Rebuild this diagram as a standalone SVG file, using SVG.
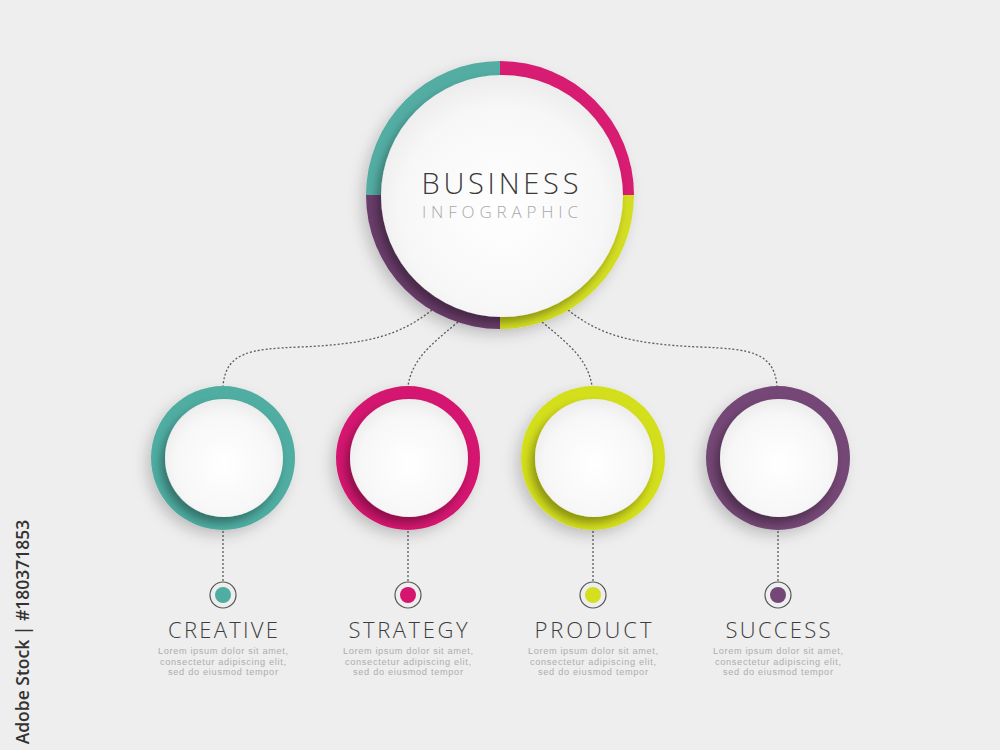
<svg xmlns="http://www.w3.org/2000/svg" width="1000" height="750" viewBox="0 0 1000 750">
<defs>
<radialGradient id="disc" cx="0.5" cy="0.55" r="0.6">
<stop offset="0" stop-color="#ffffff"/>
<stop offset="0.7" stop-color="#f7f7f7"/>
<stop offset="1" stop-color="#e8e8e8"/>
</radialGradient>
<filter id="dsh" x="-30%" y="-30%" width="160%" height="160%">
<feDropShadow dx="-4" dy="6" stdDeviation="5" flood-color="#000" flood-opacity="0.35"/>
</filter>
<filter id="rsh" x="-30%" y="-30%" width="160%" height="160%">
<feDropShadow dx="-5" dy="6" stdDeviation="7" flood-color="#000" flood-opacity="0.18"/>
</filter>
<style>
.conn{fill:none;stroke:#5a5a5a;stroke-width:1.3;stroke-dasharray:2 2}
.lbl{font-family:"Open Sans","Lato","Liberation Sans",sans-serif;font-weight:300;font-size:22px;fill:#3c3c3c;text-anchor:middle}
.lor{font-family:"Liberation Sans","Open Sans",sans-serif;font-size:9.2px;fill:#adadad;text-anchor:middle}
.marker{fill:none;stroke:#555;stroke-width:1.2}
.disc{fill:url(#disc);filter:url(#dsh)}
</style>
</defs>
<rect width="1000" height="750" fill="#eeeeee"/>

<g id="connectors">
<path class="conn" d="M432,310 C400,335 370,344 300,347 C250,349 226,352 223,386"/>
<path class="conn" d="M458,322 C430,345 412,360 408,386"/>
<path class="conn" d="M542,322 C570,345 588,360 592,386"/>
<path class="conn" d="M568,310 C600,335 630,344 700,347 C750,349 774,352 777,386"/>
<path class="conn" d="M223,531 V581"/>
<path class="conn" d="M408,531 V581"/>
<path class="conn" d="M593,531 V581"/>
<path class="conn" d="M778,531 V581"/>
</g>

<g id="main">
<g filter="url(#rsh)">
<path d="M500,195 L366,195 A134,134 0 0 1 500,61 Z" fill="#53ada3"/>
<path d="M500,195 L500,61 A134,134 0 0 1 634,195 Z" fill="#d81a72"/>
<path d="M500,195 L634,195 A134,134 0 0 1 500,329 Z" fill="#d3de22"/>
<path d="M500,195 L500,329 A134,134 0 0 1 366,195 Z" fill="#6a3c6b"/>
</g>
<circle class="disc" cx="502" cy="196" r="121"/>
<text x="500" y="194" font-family="'Open Sans','Lato','Liberation Sans',sans-serif" font-weight="300" font-size="29" fill="#3a3a3a" text-anchor="middle" textLength="157" lengthAdjust="spacing">BUSINESS</text>
<text x="500" y="218" font-family="'Open Sans','Lato','Liberation Sans',sans-serif" font-weight="300" font-size="17" fill="#a9a9a9" text-anchor="middle" textLength="156" lengthAdjust="spacing">INFOGRAPHIC</text>
</g>

<g id="creative">
<circle cx="223" cy="458" r="72" fill="#50ada2" filter="url(#rsh)"/>
<circle class="disc" cx="224" cy="458" r="59"/>
<circle class="marker" cx="223" cy="595" r="13"/>
<circle cx="223" cy="595" r="8" fill="#50ada2"/>
<text class="lbl" x="223" y="638" textLength="110" lengthAdjust="spacing">CREATIVE</text>
<text class="lor" x="223" y="654" textLength="130" lengthAdjust="spacing">Lorem ipsum dolor sit amet,</text>
<text class="lor" x="223" y="664.5" textLength="126" lengthAdjust="spacing">consectetur adipiscing elit,</text>
<text class="lor" x="223" y="675" textLength="110" lengthAdjust="spacing">sed do eiusmod tempor</text>
</g>

<g id="strategy">
<circle cx="408" cy="458" r="72" fill="#d5156f" filter="url(#rsh)"/>
<circle class="disc" cx="409" cy="458" r="59"/>
<circle class="marker" cx="408" cy="595" r="13"/>
<circle cx="408" cy="595" r="8" fill="#d5156f"/>
<text class="lbl" x="408" y="638" textLength="119" lengthAdjust="spacing">STRATEGY</text>
<text class="lor" x="408" y="654" textLength="130" lengthAdjust="spacing">Lorem ipsum dolor sit amet,</text>
<text class="lor" x="408" y="664.5" textLength="126" lengthAdjust="spacing">consectetur adipiscing elit,</text>
<text class="lor" x="408" y="675" textLength="110" lengthAdjust="spacing">sed do eiusmod tempor</text>
</g>

<g id="product">
<circle cx="593" cy="458" r="72" fill="#d4df1f" filter="url(#rsh)"/>
<circle class="disc" cx="594" cy="458" r="59"/>
<circle class="marker" cx="593" cy="595" r="13"/>
<circle cx="593" cy="595" r="8" fill="#d4df1f"/>
<text class="lbl" x="593" y="638" textLength="117" lengthAdjust="spacing">PRODUCT</text>
<text class="lor" x="593" y="654" textLength="130" lengthAdjust="spacing">Lorem ipsum dolor sit amet,</text>
<text class="lor" x="593" y="664.5" textLength="126" lengthAdjust="spacing">consectetur adipiscing elit,</text>
<text class="lor" x="593" y="675" textLength="110" lengthAdjust="spacing">sed do eiusmod tempor</text>
</g>

<g id="success">
<circle cx="778" cy="458" r="72" fill="#744776" filter="url(#rsh)"/>
<circle class="disc" cx="779" cy="458" r="59"/>
<circle class="marker" cx="778" cy="595" r="13"/>
<circle cx="778" cy="595" r="8" fill="#744776"/>
<text class="lbl" x="778" y="638" textLength="105" lengthAdjust="spacing">SUCCESS</text>
<text class="lor" x="778" y="654" textLength="130" lengthAdjust="spacing">Lorem ipsum dolor sit amet,</text>
<text class="lor" x="778" y="664.5" textLength="126" lengthAdjust="spacing">consectetur adipiscing elit,</text>
<text class="lor" x="778" y="675" textLength="110" lengthAdjust="spacing">sed do eiusmod tempor</text>
</g>

<text x="0" y="0" transform="translate(29,632) rotate(-90)" font-family="'Open Sans','Liberation Sans',sans-serif" font-weight="600" font-size="17.5" fill="#333" text-anchor="middle">Adobe Stock | #180371853</text>
</svg>
